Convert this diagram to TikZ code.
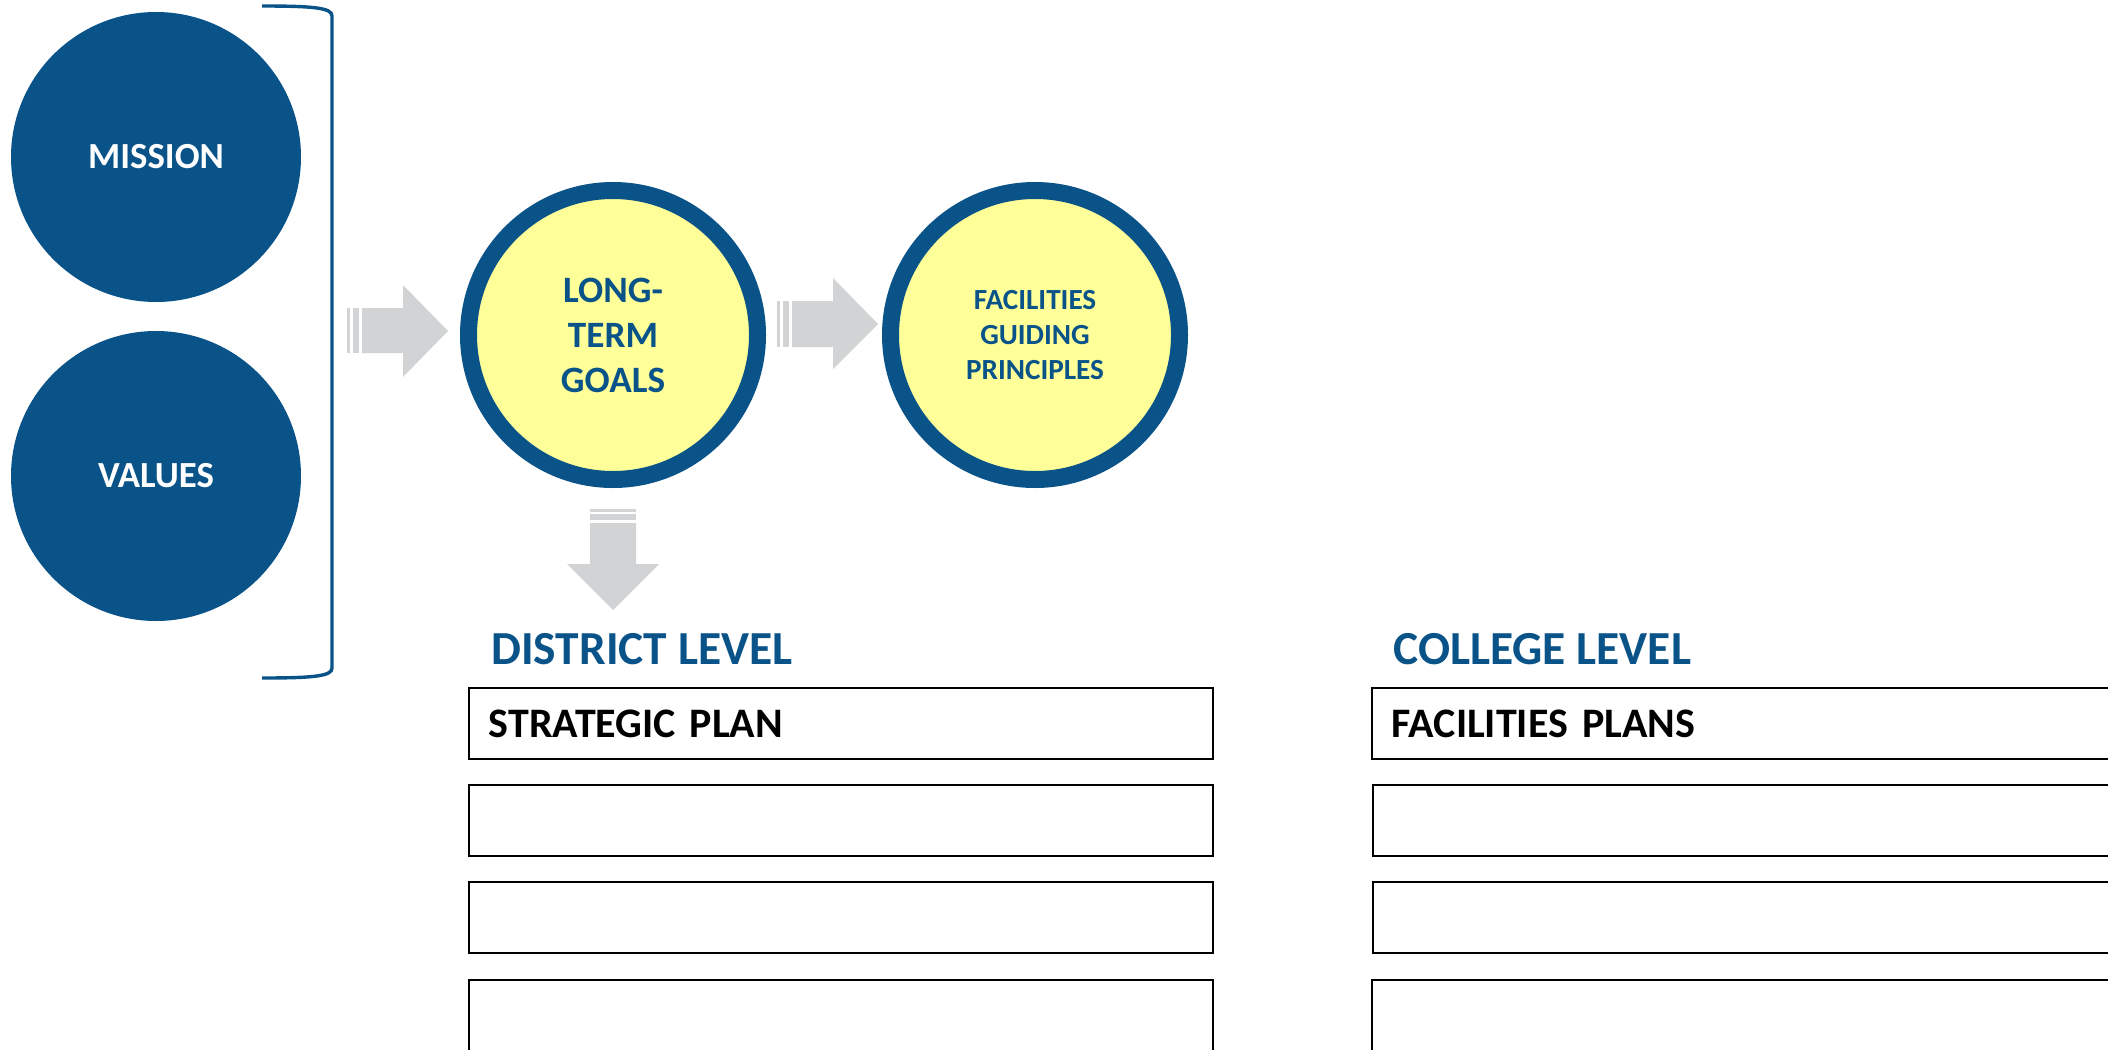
\documentclass[tikz,border=0pt]{standalone}
\usepackage{fontspec}
\setmainfont{Carlito}
\usepackage{tikz}

\definecolor{navy}{RGB}{9,83,137}
\definecolor{paleyellow}{RGB}{255,255,153}
\definecolor{arrowgray}{RGB}{209,211,212}

\tikzset{
  bluedisc/.style={circle,fill=navy,text=white,minimum size=145pt,inner sep=0pt,
    font=\fontsize{18.4}{22}\selectfont\bfseries},
  ringdisc/.style={circle,draw=navy,line width=8.5pt,fill=paleyellow,text=navy,
    minimum size=144.5pt,inner sep=0pt,align=center},
  levelhead/.style={anchor=base west,inner sep=0pt,text=navy,
    font=\fontsize{23.7}{28}\selectfont\bfseries},
  planbox/.style={draw,line width=0.9pt,anchor=north west,minimum height=35.5pt,
    text width=352pt,inner xsep=10pt,inner ysep=0pt,align=left,
    font=\fontsize{21}{25}\selectfont\bfseries}
}

\begin{document}
\begin{tikzpicture}[x=0.5pt,y=-0.5pt]
  \useasboundingbox (0,0) rectangle (2108,1049);

  %left
  \node[bluedisc] (mission) at (156,157) {MISSION};
  \node[bluedisc] (values) at (156,476) {VALUES};
  \draw[navy,line width=1.7pt]
    (262,6) .. controls (315,6) and (332,8) .. (332,16)
    --
    (332,668) .. controls (332,676) and (315,678) .. (262,678);

  %circles
  \node[ringdisc,font=\fontsize{18.6}{22.5}\selectfont\bfseries]
    (goals) at (613,335) {LONG-\\TERM\\GOALS};
  \node[ringdisc,font=\fontsize{14.6}{17.5}\selectfont\bfseries]
    (principles) at (1035,335) {FACILITIES\\GUIDING\\PRINCIPLES};

  %arrows
  \fill[arrowgray] (347,308) rectangle (350,353);
  \fill[arrowgray] (353,308) rectangle (359,353);
  \fill[arrowgray]
    (362,308) -- (403,308) -- (403,285) -- (448,331)
    -- (403,377) -- (403,353) -- (362,353) -- cycle;
  \fill[arrowgray] (777,301) rectangle (780,347);
  \fill[arrowgray] (783,301) rectangle (789,347);
  \fill[arrowgray]
    (792,301) -- (833,301) -- (833,278) -- (878,324)
    -- (833,369) -- (833,347) -- (792,347) -- cycle;
  \fill[arrowgray] (590,509) rectangle (636,512);
  \fill[arrowgray] (590,514) rectangle (636,520);
  \fill[arrowgray]
    (590,523) -- (590,564) -- (567,564) -- (613,610)
    -- (659,564) -- (636,564) -- (636,523) -- cycle;

  %district
  \node[levelhead] (district) at (491,664) {DISTRICT LEVEL};
  \node[planbox] (dplan1) at (468,687) {STRATEGIC PLAN};
  \node[planbox] (dplan2) at (468,784) {};
  \node[planbox] (dplan3) at (468,881) {};
  \node[planbox] (dplan4) at (468,979) {};

  %college
  \node[levelhead] (college) at (1393,664) {COLLEGE LEVEL};
  \node[planbox] (cplan1) at (1371,687) {FACILITIES PLANS};
  \node[planbox] (cplan2) at (1372,784) {};
  \node[planbox] (cplan3) at (1372,881) {};
  \node[planbox] (cplan4) at (1371,979) {};
\end{tikzpicture}
\end{document}
